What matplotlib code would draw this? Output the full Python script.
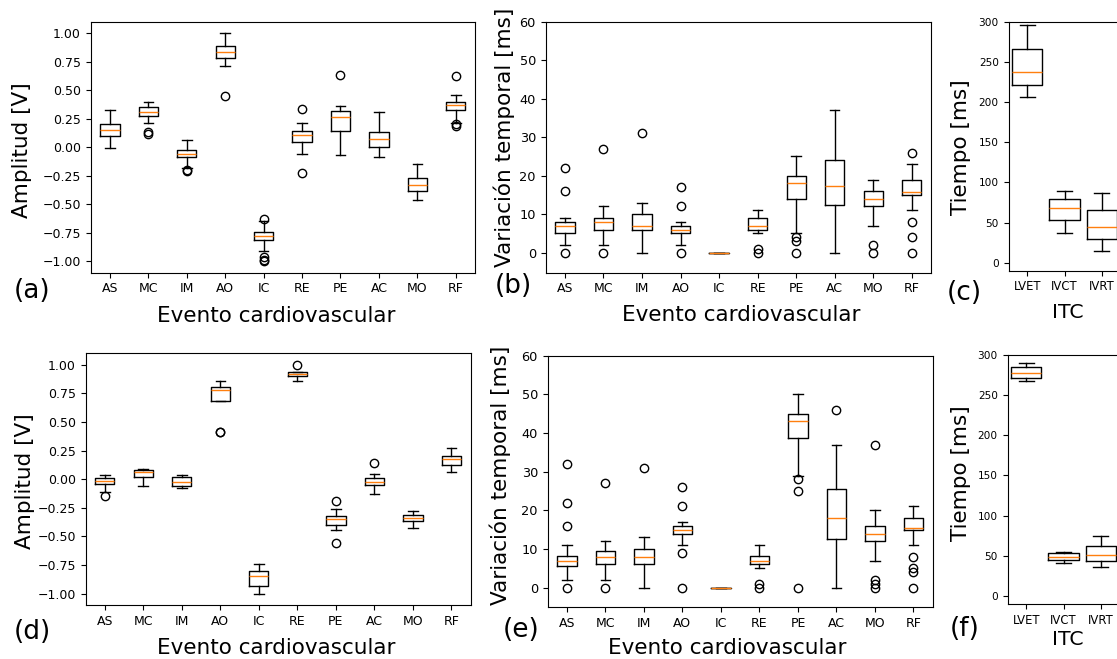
import matplotlib
matplotlib.use("Agg")
import matplotlib.pyplot as plt

# categories
eventos = ["AS", "MC", "IM", "AO", "IC", "RE", "PE", "AC", "MO", "RF"]
itc = ["LVET", "IVCT", "IVRT"]

# (a) amplitud, fila superior
a_whislo = [-0.01, 0.21, -0.18, 0.71, -0.91, -0.06, -0.07, -0.09, -0.46, 0.21]
a_q1 = [0.095, 0.276, -0.089, 0.781, -0.816, 0.042, 0.145, 0.001, -0.381, 0.328]
a_med = [0.153, 0.305, -0.057, 0.834, -0.781, 0.109, 0.264, 0.072, -0.328, 0.366]
a_q3 = [0.203, 0.349, -0.028, 0.883, -0.743, 0.145, 0.320, 0.133, -0.270, 0.396]
a_whishi = [0.328, 0.396, 0.066, 1.00, -0.65, 0.212, 0.364, 0.305, -0.145, 0.454]
a_fliers = [[], [0.13, 0.12], [-0.197, -0.21], [0.445], [-0.63, -0.965, -0.985, -1.0],
            [0.337, -0.226], [0.629], [], [], [0.62, 0.19, 0.20]]

# (b) variacion temporal, fila superior
b_whislo = [2, 2, 0, 2, 0, 5, 5, 0, 7, 11]
b_q1 = [5, 6, 6, 5, 0, 6, 14, 12.5, 12, 15]
b_med = [7, 8, 7, 6, 0, 7, 18, 17.3, 14, 15.8]
b_q3 = [8, 9, 10, 7, 0, 9, 20, 24, 16, 19]
b_whishi = [9, 12, 13, 8, 0, 11, 25, 37, 19, 23]
b_fliers = [[22, 16, 0], [27, 0], [31], [17, 12, 0], [], [1, 0], [4, 3, 0], [], [2, 0],
            [26, 8, 4, 0]]

# (c) ITC, fila superior
c_whislo = [205.7, 37, 14.1]
c_q1 = [220.6, 53.2, 29.1]
c_med = [236.8, 68.6, 44.9]
c_q3 = [266.3, 78.9, 65.2]
c_whishi = [295.8, 88.9, 87.3]

# (d) amplitud, fila inferior
d_whislo = [-0.11, -0.06, -0.077, 0.679, -1.0, 0.86, -0.445, -0.13, -0.425, 0.06]
d_q1 = [-0.042, 0.016, -0.06, 0.679, -0.933, 0.898, -0.401, -0.051, -0.367, 0.124]
d_med = [-0.013, 0.066, -0.028, 0.781, -0.848, 0.918, -0.352, -0.028, -0.343, 0.174]
d_q3 = [0.007, 0.08, 0.016, 0.804, -0.801, 0.933, -0.323, 0.007, -0.314, 0.203]
d_whishi = [0.036, 0.086, 0.036, 0.86, -0.746, 0.933, -0.264, 0.045, -0.276, 0.27]
d_fliers = [[-0.145], [], [], [0.41, 0.415], [], [0.994], [-0.191, -0.562], [0.145], [], []]

# (e) variacion temporal, fila inferior
e_whislo = [2, 2, 0, 11, 0, 5, 29, 0, 7, 11]
e_q1 = [5.6, 6, 6, 14, 0, 6, 38.6, 12.6, 12, 15]
e_med = [7, 8, 8, 15, 0, 7, 43, 18, 14, 15.4]
e_q3 = [8.3, 9.5, 10, 16, 0, 8.3, 44.8, 25.6, 16, 18]
e_whishi = [11, 12, 13, 17, 0, 11, 50, 37, 20, 21]
e_fliers = [[32, 22, 16, 0], [27, 0], [31], [26, 21, 9, 0], [], [1, 0], [28, 25, 0], [46],
            [37, 2, 1, 0], [8, 5, 4, 0]]

# (f) ITC, fila inferior
f_whislo = [267.6, 41.6, 36.6]
f_q1 = [271.7, 45, 43.7]
f_med = [278, 49.1, 51.2]
f_q3 = [284.6, 53.3, 62.8]
f_whishi = [290.5, 55.3, 74.9]

W = 1117.0
H = 659.0


def rect(l, t, r, b):
  return [l / W, 1 - b / H, (r - l) / W, (b - t) / H]


def stats(labels, whislo, q1, med, q3, whishi, fliers=None):
  out = []
  for i in range(len(labels)):
    out.append({"label": labels[i], "whislo": whislo[i], "q1": q1[i], "med": med[i],
                "q3": q3[i], "whishi": whishi[i],
                "fliers": fliers[i] if fliers is not None else []})
  return out


def panel(fig, box, st, ylim, width, ytick_fs, xtick_fs, yticks=None):
  ax = fig.add_axes(rect(*box))
  ax.bxp(st, widths=width)
  ax.set_ylim(ylim)
  if yticks is not None:
    ax.set_yticks(yticks)
  ax.tick_params(axis="y", labelsize=ytick_fs)
  ax.tick_params(axis="x", labelsize=xtick_fs)
  return ax


def put(fig, x, y, s, size, **kw):
  fig.text(x / W, 1 - y / H, s, fontsize=size, **kw)


def main():
  fig = plt.figure(figsize=(W / 100, H / 100), dpi=100)

  amp_ticks = [-1.0, -0.75, -0.5, -0.25, 0.0, 0.25, 0.5, 0.75, 1.0]
  t_ticks = [0, 10, 20, 30, 40, 50, 60]
  itc_ticks = [0, 50, 100, 150, 200, 250, 300]

  panel(fig, (90.7, 21.7, 475, 272.7),
        stats(eventos, a_whislo, a_q1, a_med, a_q3, a_whishi, a_fliers),
        (-1.1, 1.1), 0.5, 9, 9, amp_ticks)
  panel(fig, (545.7, 21.7, 931, 272.7),
        stats(eventos, b_whislo, b_q1, b_med, b_q3, b_whishi, b_fliers),
        (-5.2, 60), 0.5, 9.3, 9, t_ticks)
  panel(fig, (1008.5, 21.7, 1120.5, 270.7),
        stats(itc, c_whislo, c_q1, c_med, c_q3, c_whishi),
        (-10, 300), 0.82, 7.6, 8.4, itc_ticks)
  panel(fig, (85.5, 353.3, 470.7, 605),
        stats(eventos, d_whislo, d_q1, d_med, d_q3, d_whishi, d_fliers),
        (-1.1, 1.1), 0.5, 9, 9, amp_ticks)
  panel(fig, (547.7, 355.7, 932.7, 607),
        stats(eventos, e_whislo, e_q1, e_med, e_q3, e_whishi, e_fliers),
        (-5, 60), 0.5, 9.3, 9, t_ticks)
  panel(fig, (1007.5, 355, 1119.5, 604),
        stats(itc, f_whislo, f_q1, f_med, f_q3, f_whishi),
        (-10, 300), 0.82, 7.6, 8.4, itc_ticks)

  # axis labels
  put(fig, 276, 321.7, "Evento cardiovascular", 15.5, ha="center", va="baseline")
  put(fig, 740.8, 320.7, "Evento cardiovascular", 15.5, ha="center", va="baseline")
  put(fig, 1068, 318.3, "ITC", 14.7, ha="center", va="baseline")
  put(fig, 276, 654, "Evento cardiovascular", 15.5, ha="center", va="baseline")
  put(fig, 727.5, 654, "Evento cardiovascular", 15.5, ha="center", va="baseline")
  put(fig, 1068.3, 645, "ITC", 14.7, ha="center", va="baseline")

  put(fig, 21.7, 150, "Amplitud [V]", 15.5, ha="center", va="center", rotation=90)
  put(fig, 504, 137.5, "Variación temporal [ms]", 15.5, ha="center", va="center", rotation=90)
  put(fig, 960.7, 146.7, "Tiempo [ms]", 15.5, ha="center", va="center", rotation=90)
  put(fig, 25, 480.7, "Amplitud [V]", 15.5, ha="center", va="center", rotation=90)
  put(fig, 500.7, 475.7, "Variación temporal [ms]", 15.5, ha="center", va="center", rotation=90)
  put(fig, 961.3, 473.3, "Tiempo [ms]", 15.5, ha="center", va="center", rotation=90)

  # panel letters
  put(fig, 13.3, 290.5, "(a)", 19, ha="left", va="center")
  put(fig, 495, 286, "(b)", 19, ha="left", va="center")
  put(fig, 946.7, 292.5, "(c)", 19, ha="left", va="center")
  put(fig, 13.3, 632, "(d)", 19, ha="left", va="center")
  put(fig, 503, 630, "(e)", 19, ha="left", va="center")
  put(fig, 950, 629, "(f)", 19, ha="left", va="center")

  fig.savefig("out.png", dpi=100)


if __name__ == "__main__":
  main()
